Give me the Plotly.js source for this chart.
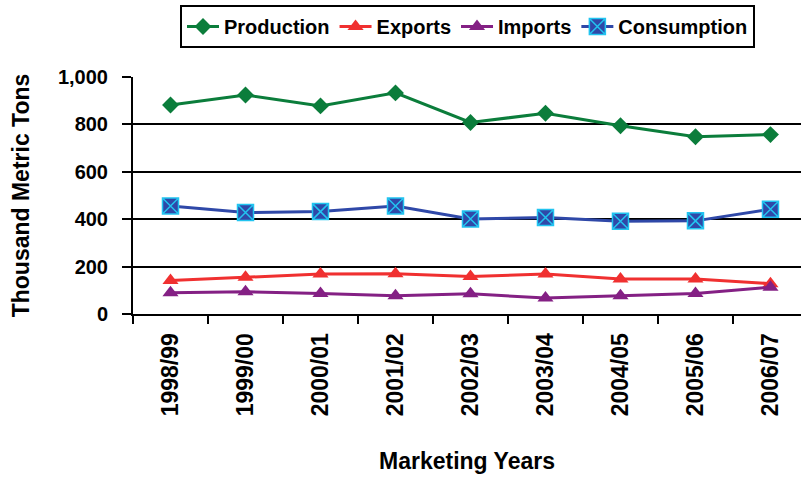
<!DOCTYPE html>
<html><head><meta charset="utf-8">
<script src="https://cdn.plot.ly/plotly-3.0.1.min.js"></script>
<style>html,body{margin:0;padding:0;background:#fff}#chart{width:803px;height:477px}</style>
</head><body><div id="chart"></div>
<script>
const years = ["1998/99","1999/00","2000/01","2001/02","2002/03","2003/04","2004/05","2005/06","2006/07"];
const production = [882, 924, 878, 933, 808, 847, 794, 748, 757];
const exports_ = [141, 155, 169, 170, 158, 169, 148, 148, 128];
const imports_ = [90, 94, 87, 77, 85, 67, 77, 87, 113];
const consumption = [456, 428, 432, 456, 401, 407, 391, 393, 442];
const yTicks = [0, 200, 400, 600, 800, 1000];

const FONT = "Liberation Sans, Arial, sans-serif";
const traces = [
  {name:"Production", x:years, y:production, type:"scatter", mode:"lines+markers",
   line:{color:"#0b7d3b", width:3}, marker:{symbol:"diamond", size:13, color:"#0b7d3b"}},
  {name:"Exports", x:years, y:exports_, type:"scatter", mode:"lines+markers",
   line:{color:"#f03030", width:3}, marker:{symbol:"triangle-up", size:14, color:"#f03030"}},
  {name:"Imports", x:years, y:imports_, type:"scatter", mode:"lines+markers",
   line:{color:"#842084", width:3}, marker:{symbol:"triangle-up", size:14, color:"#842084"}},
  {name:"Consumption", x:years, y:consumption, type:"scatter", mode:"lines+markers",
   line:{color:"#2f48a8", width:3}, marker:{symbol:"square-x", size:16, color:"#2f48a8", line:{color:"#22c4f0", width:1.5}}}
];
const layout = {
  width:803, height:477,
  margin:{l:133, r:2, t:77, b:163},
  paper_bgcolor:"#fff", plot_bgcolor:"#fff",
  font:{family:FONT, color:"#000", size:20},
  showlegend:true,
  legend:{orientation:"h", xref:"container", yref:"container", x:180/803, y:1-5/477, xanchor:"left", yanchor:"top",
    bordercolor:"#000", borderwidth:2, font:{family:FONT, size:20, weight:"bold"}, itemwidth:32, tracegroupgap:0},
  xaxis:{type:"category", range:[-0.5, 8.407], tickson:"boundaries", ticks:"outside", ticklen:8, tickwidth:2, tickcolor:"#000",
    showline:true, linecolor:"#000", linewidth:2, showgrid:false, zeroline:false,
    tickangle:-90, ticklabelstandoff:8, tickfont:{family:FONT, size:23, weight:"bold"},
    title:{text:"Marketing Years", font:{family:FONT, size:23, weight:"bold"}, standoff:38}},
  yaxis:{range:[0,1000], tickvals:yTicks, tickformat:",", ticks:"outside", ticklen:9, tickwidth:2, tickcolor:"#000",
    showline:true, linecolor:"#000", linewidth:2, showgrid:true, gridcolor:"#000", gridwidth:2, zeroline:false,
    ticklabelstandoff:10, tickfont:{family:FONT, size:20, weight:"bold"},
    title:{text:"Thousand Metric Tons", font:{family:FONT, size:23, weight:"bold"}, standoff:22}}
};
Plotly.newPlot("chart", traces, layout, {displayModeBar:false, staticPlot:true});
</script></body></html>
